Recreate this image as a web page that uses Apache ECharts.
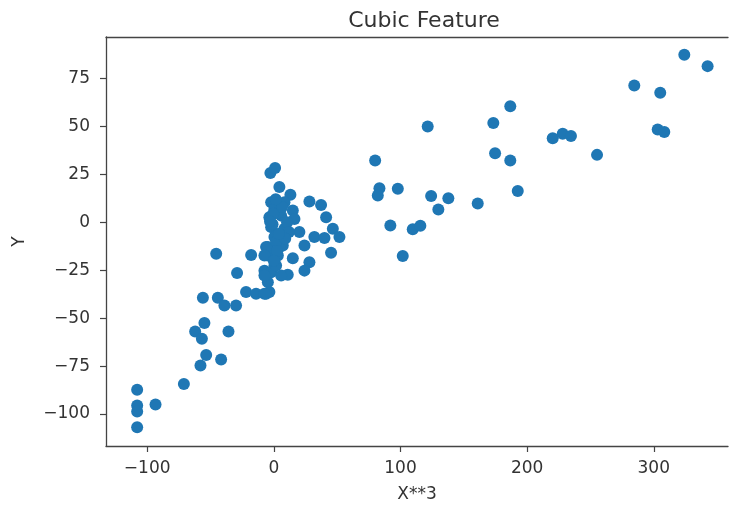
<!DOCTYPE html>
<html>
<head>
<meta charset="utf-8">
<script src="https://cdn.jsdelivr.net/npm/echarts@6/dist/echarts.min.js"></script>
<style>html,body{margin:0;padding:0;background:#fff;}#chart{width:729px;height:508px;}</style>
</head>
<body>
<div id="chart"></div>
<script>
// X**3 values
const xValues = [
  324.1, 342.5, 284.6, 305.1, 303.1, 308.3, 220.2, 228.1, 234.6, 255.2,
  186.7, 173.3, 121.5, 80.0, 174.7, 186.7, 83.4, 82.1, 97.9, 124.2,
  137.8, 129.9, 161.0, 192.6, 92.0, 109.7, 115.7, 101.8,
  -2.7, 1.0, 4.4, 13.1, 28.1, 37.3, 41.3, 46.6, 51.8, 32.0,
  40.0, 20.2, 24.2, 45.2, 15.0, 28.1, 24.2, 11.0, -45.5, -17.9,
  -29.0, -6.1, 7.1, -4.7, 0.5, -7.4, -2.1, -4.7, -3.5, -6.1,
  -21.9, -14.0, -7.4, -56.0, -44.2, -39.0, -29.8,
  -2.1, 8.4, 15.0, -3.5, 5.8, 16.3, -2.1, 8.4, 0.5, -4.7,
  4.4, -7.4, 3.2, 1.8, 5.8, -7.4, 0.5, 10.5, 3.0, 12.0,
  -1.0, 6.5, 2.0, -0.5, 9.0, 1.5, -3.0, 4.0, 2.5, 0.0,
  -54.8, -62.1, -56.8, -35.8, -53.4, -57.9, -41.6, -71.0,
  -107.9, -107.9, -107.9, -93.4, -107.9
];
// Y values
const yValues = [
  87.4, 81.5, 71.4, 67.6, 48.4, 47.1, 43.9, 46.2, 45.0, 35.2,
  60.6, 51.8, 50.0, 32.3, 36.1, 32.3, 17.8, 14.0, 17.5, 13.7,
  12.6, 6.7, 9.8, 16.4, -1.6, -3.6, -1.8, -17.6,
  25.7, 28.3, 18.4, 14.4, 10.9, 9.1, 2.7, -3.4, -7.7, -7.7,
  -8.2, -5.1, -12.1, -15.9, -18.7, -20.8, -25.2, -27.4, -16.4, -17.0,
  -26.4, -12.9, -12.1, -17.3, -22.5, -25.2, -26.0, -31.2, -36.4, -37.3,
  -36.4, -37.3, -37.3, -39.4, -39.4, -43.4, -43.4,
  10.5, 10.5, 6.2, 2.7, 3.5, 1.8, -2.5, -3.4, -7.7, -12.9,
  -12.9, -17.3, -17.3, -22.5, -27.8, -27.8, 7.0, 0.0, 5.0, -5.0,
  -1.0, 8.0, -10.0, 4.5, -8.5, 12.0, 0.5, -6.0, -15.0, -20.0,
  -52.5, -57.0, -60.8, -57.0, -69.2, -74.7, -71.6, -84.3,
  -87.3, -95.6, -98.7, -95.1, -106.9
];
const xTicks = [-100, 0, 100, 200, 300];
const yTicks = [-100, -75, -50, -25, 0, 25, 50, 75];

const points = xValues.map((x, i) => [x, yValues[i]]);
const txt = '#333';
const axisCol = '#444';
const font = 'DejaVu Sans';

const chart = echarts.init(document.getElementById('chart'), null, {renderer: 'canvas'});
chart.setOption({
  animation: false,
  backgroundColor: '#fff',
  title: {
    text: 'Cubic Feature', left: 419, top: 5, textAlign: 'center',
    textStyle: {fontFamily: font, fontSize: 22, fontWeight: 'normal', color: txt}
  },
  grid: {left: 106, right: 1, top: 37, bottom: 61, containLabel: false},
  xAxis: [{
    type: 'value', min: -132.5, max: 358.6, position: 'bottom',
    name: 'X**3', nameLocation: 'middle', nameGap: 40,
    nameTextStyle: {fontFamily: font, fontSize: 17, color: txt},
    axisLine: {show: true, onZero: false, lineStyle: {color: axisCol, width: 1.3}},
    axisTick: {show: true, length: 6, customValues: xTicks, lineStyle: {color: axisCol, width: 1.2}},
    axisLabel: {customValues: xTicks, fontFamily: font, fontSize: 17, color: txt, margin: 14,
      formatter: v => String(v).replace('-', '\u2212')},
    splitLine: {show: false}
  }, {
    type: 'value', min: -132.5, max: 358.6, position: 'top',
    axisLine: {show: true, onZero: false, lineStyle: {color: axisCol, width: 1.3}},
    axisTick: {show: false}, axisLabel: {show: false}, splitLine: {show: false}
  }],
  yAxis: {
    type: 'value', min: -116.7, max: 96.7,
    name: 'Y', nameLocation: 'middle', nameGap: 78, nameRotate: 90,
    nameTextStyle: {fontFamily: font, fontSize: 17, color: txt},
    axisLine: {show: true, onZero: false, lineStyle: {color: axisCol, width: 1.3}},
    axisTick: {show: true, length: 6, customValues: yTicks, lineStyle: {color: axisCol, width: 1.2}},
    axisLabel: {customValues: yTicks, fontFamily: font, fontSize: 17, color: txt, margin: 16,
      formatter: v => String(v).replace('-', '\u2212')},
    splitLine: {show: false}
  },
  series: [{
    type: 'scatter', xAxisIndex: 0, symbolSize: 12,
    itemStyle: {color: '#1f77b4', opacity: 1},
    data: points
  }]
});
</script>
</body>
</html>
